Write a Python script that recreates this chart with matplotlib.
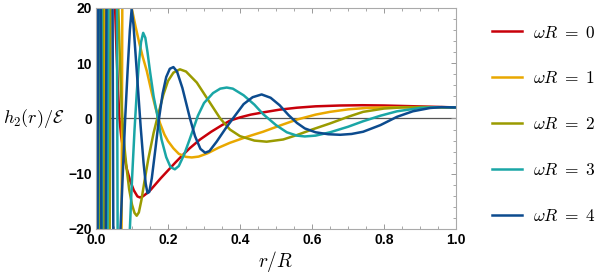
import matplotlib
matplotlib.use("Agg")
import matplotlib.pyplot as plt
from matplotlib.ticker import MultipleLocator

plt.rcParams['mathtext.fontset'] = 'cm'
plt.rcParams['font.family'] = ['Liberation Sans', 'DejaVu Sans']

# values (r/R, h2/E); +-80 marks curves running off the frame
r0 = [0.000, 0.003, 0.006, 0.010, 0.015, 0.046, 0.050, 0.053, 0.057, 0.061, 0.065, 0.070, 0.077,
      0.085, 0.095, 0.105, 0.115, 0.122, 0.130, 0.140, 0.152, 0.164, 0.180, 0.200, 0.220, 0.238,
      0.260, 0.289, 0.320, 0.350, 0.372, 0.400, 0.430, 0.464, 0.510, 0.558, 0.610, 0.678, 0.740,
      0.800, 0.860, 0.920, 1.000]
h0 = [80, -80, 80, -80, 80, 80, 30, 20, 12, 5.5, 0, -3.3, -6.2,
      -9.0, -11.3, -13.0, -14.1, -14.3, -14.1, -13.6, -12.9, -12.0, -10.8, -9.4, -8.0, -6.8,
      -5.4, -3.8, -2.4, -1.2, -0.4, 0.2, 0.7, 1.1, 1.6, 1.95, 2.2, 2.35, 2.4,
      2.35, 2.25, 2.15, 2.0]

r1 = [0.001, 0.005, 0.011, 0.022, 0.028, 0.068, 0.076, 0.091, 0.095, 0.099, 0.110, 0.120, 0.130,
      0.141, 0.155, 0.165, 0.178, 0.190, 0.200, 0.215, 0.230, 0.250, 0.266, 0.285, 0.310, 0.340,
      0.372, 0.420, 0.464, 0.510, 0.558, 0.610, 0.650, 0.700, 0.750, 0.800, 0.860, 0.920, 1.000]
h1 = [80, -80, 80, 80, -80, -80, 80, 80, 23, 20, 16.6, 13.7, 11.1,
      8.6, 4.6, 2.0, -0.9, -2.9, -4.1, -5.4, -6.4, -6.95, -7.05, -6.9, -6.3, -5.3,
      -4.4, -3.3, -2.4, -1.3, -0.2, 0.7, 1.2, 1.65, 1.9, 2.0, 2.05, 2.05, 2.0]

r2 = [0.002, 0.006, 0.008, 0.012, 0.017, 0.023, 0.035, 0.043, 0.055, 0.058, 0.062, 0.065, 0.068,
      0.071, 0.075, 0.080, 0.085, 0.092, 0.100, 0.107, 0.113, 0.119, 0.126, 0.135, 0.145, 0.160,
      0.173, 0.187, 0.200, 0.215, 0.233, 0.250, 0.280, 0.310, 0.345, 0.372, 0.400, 0.440, 0.474,
      0.520, 0.558, 0.600, 0.650, 0.700, 0.742, 0.800, 0.850, 0.900, 1.000]
h2 = [80, -80, -80, 80, 80, -80, -80, 80, 80, 30, 20, 13.5, 7.5,
      2.5, -2.0, -5.8, -9.0, -12.8, -15.6, -17.1, -17.6, -17.0, -14.8, -11.2, -7.4, -2.6,
      0.8, 4.3, 6.8, 8.3, 8.9, 8.5, 6.5, 3.5, 0, -2.0, -3.2, -4.0, -4.2,
      -3.8, -3.0, -2.0, -0.9, 0.3, 1.2, 1.8, 2.0, 2.05, 2.0]

r3 = [0.003, 0.009, 0.013, 0.019, 0.029, 0.037, 0.055, 0.063, 0.086, 0.090, 0.094, 0.100, 0.107,
      0.113, 0.119, 0.125, 0.131, 0.137, 0.143, 0.150, 0.160, 0.172, 0.182, 0.195, 0.207, 0.219,
      0.230, 0.245, 0.260, 0.283, 0.300, 0.325, 0.345, 0.363, 0.380, 0.410, 0.440, 0.464, 0.500,
      0.530, 0.558, 0.580, 0.610, 0.650, 0.700, 0.742, 0.790, 0.836, 0.900, 0.950, 1.000]
h3 = [-80, 80, 80, -80, -80, 80, 80, -80, -80, -30, -20, -11, -2,
      4.5, 10, 13.8, 15.5, 14.6, 12, 8.5, 4, 0, -3.8, -7, -8.8, -9.2,
      -8.6, -6.5, -3.8, 0.5, 2.8, 4.6, 5.4, 5.6, 5.4, 4.2, 2.5, 0.8, -1.2,
      -2.5, -3.1, -3.25, -3.1, -2.5, -1.5, -0.5, 0.5, 1.3, 1.9, 2.05, 2.0]

r4 = [0.002, 0.008, 0.011, 0.017, 0.024, 0.032, 0.043, 0.051, 0.058, 0.063, 0.068, 0.075, 0.081,
      0.088, 0.094, 0.099, 0.104, 0.110, 0.117, 0.124, 0.132, 0.138, 0.143, 0.148, 0.155, 0.165,
      0.175, 0.185, 0.195, 0.205, 0.215, 0.225, 0.240, 0.261, 0.275, 0.290, 0.303, 0.315, 0.335,
      0.360, 0.386, 0.410, 0.435, 0.460, 0.485, 0.510, 0.535, 0.558, 0.580, 0.610, 0.645, 0.678,
      0.710, 0.742, 0.790, 0.836, 0.880, 0.928, 0.960, 1.000]
h4 = [-80, 80, 80, -80, -80, 80, 80, -80, -60, -32, -20, -9, 0,
      9, 16, 19.8, 17, 11.5, 5, -1.5, -8, -11.8, -13.5, -13.3, -10.8, -5.5,
      0, 4.5, 7.5, 9, 9.3, 8.5, 5.5, 0, -3.2, -5.5, -6.2, -5.9, -4.2,
      -1.8, 0.5, 2.6, 3.85, 4.35, 3.75, 2.4, 0.6, -0.8, -1.8, -2.5, -2.85, -2.95,
      -2.8, -2.4, -1.2, 0.3, 1.3, 1.9, 2.05, 2.0]

omegas = [0, 1, 2, 3, 4]
colors = ['#c8000a', '#e9a800', '#9a9b00', '#1aa6a6', '#0c4b8e']
curves = [(r0, h0), (r1, h1), (r2, h2), (r3, h3), (r4, h4)]

fig = plt.figure(figsize=(5.99, 2.78), dpi=100)
ax = fig.add_axes([0.1603, 0.1763, 0.601, 0.795])

ax.axhline(0, color='#555555', lw=0.9, zorder=1)
for (r, h), w, c in zip(curves, omegas, colors):
    ax.plot(r, h, color=c, lw=1.8, label=r'$\omega R\;=\;%d$' % w, zorder=2)

ax.set_xlim(0, 1)
ax.set_ylim(-20, 20)
ax.xaxis.set_major_locator(MultipleLocator(0.2))
ax.xaxis.set_minor_locator(MultipleLocator(0.05))
ax.yaxis.set_major_locator(MultipleLocator(10))
ax.yaxis.set_minor_locator(MultipleLocator(2))
ax.xaxis.set_major_formatter(plt.FuncFormatter(lambda v, p: '%.1f' % v))
ax.tick_params(which='both', direction='in', top=True, right=True, color='#999999',
               labelsize=10, pad=3)
ax.tick_params(which='major', length=3.5, width=0.7)
ax.tick_params(which='minor', length=2.5, width=0.6)
for lab in ax.get_xticklabels() + ax.get_yticklabels():
    lab.set_fontweight('bold')
for s in ax.spines.values():
    s.set_color('#aaaaaa')
    s.set_linewidth(0.8)

ax.set_xlabel(r'$r/R$', fontsize=14, labelpad=1)
fig.text(0.056, 0.572, r'$h_2(r)/\mathcal{E}$', fontsize=13, ha='center', va='center')

fig.legend(loc='center left', bbox_to_anchor=(0.795, 0.553), frameon=False, fontsize=12.5,
           handlelength=1.75, handletextpad=0.6, labelspacing=1.72, borderaxespad=0.5)

fig.savefig('out.png', dpi=100)
